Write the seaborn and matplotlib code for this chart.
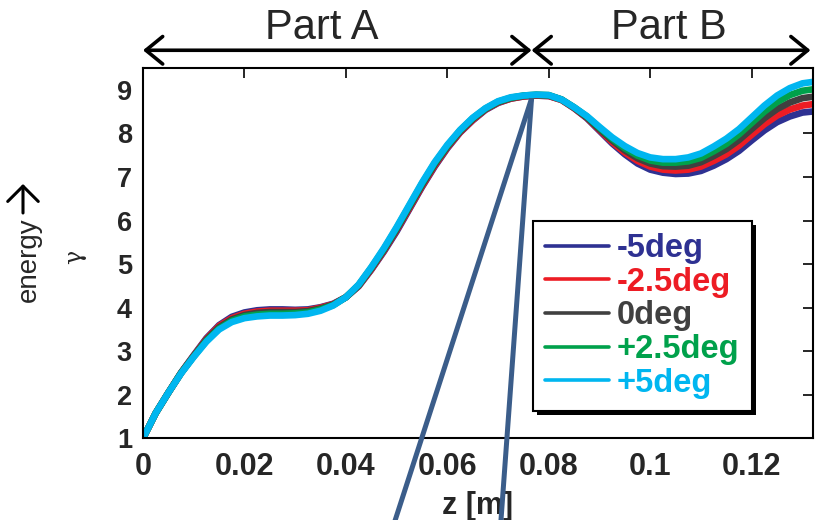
import matplotlib
matplotlib.use("Agg")
import matplotlib.pyplot as plt
import matplotlib.patheffects as pe
from matplotlib.lines import Line2D
import numpy as np
import pandas as pd
import seaborn as sns

# ---------------- data ----------------
z = [0.0, 0.0025, 0.005, 0.0075, 0.01, 0.0125, 0.015, 0.0175, 0.02, 0.0225,
     0.025, 0.0275, 0.03, 0.0325, 0.035, 0.0375, 0.04, 0.0425, 0.045, 0.0475,
     0.05, 0.0525, 0.055, 0.0575, 0.06, 0.0625, 0.065, 0.0675, 0.07, 0.0725,
     0.075, 0.0775, 0.08, 0.0825, 0.085, 0.0875, 0.09, 0.0925, 0.095, 0.0975,
     0.1, 0.1025, 0.105, 0.1075, 0.11, 0.1125, 0.115, 0.1175, 0.12, 0.1225,
     0.125, 0.1275, 0.13, 0.1325]

gamma_m5 = [1.00, 1.58, 2.05, 2.51, 2.91, 3.30, 3.60, 3.79, 3.89, 3.94,
            3.96, 3.96, 3.95, 3.96, 4.01, 4.09, 4.24, 4.49, 4.87, 5.29,
            5.75, 6.26, 6.77, 7.24, 7.66, 8.02, 8.30, 8.54, 8.70, 8.80,
            8.85, 8.87, 8.86, 8.77, 8.58, 8.35, 8.06, 7.77, 7.52, 7.31,
            7.17, 7.10, 7.07, 7.08, 7.14, 7.26, 7.41, 7.60, 7.84, 8.07,
            8.26, 8.39, 8.48, 8.51]

gamma_m25 = [1.00, 1.58, 2.05, 2.50, 2.90, 3.28, 3.58, 3.76, 3.86, 3.91,
             3.93, 3.93, 3.93, 3.94, 4.00, 4.08, 4.24, 4.50, 4.88, 5.31,
             5.78, 6.28, 6.79, 7.26, 7.68, 8.03, 8.31, 8.55, 8.71, 8.80,
             8.85, 8.87, 8.86, 8.77, 8.58, 8.36, 8.08, 7.80, 7.56, 7.37,
             7.24, 7.17, 7.15, 7.17, 7.24, 7.37, 7.52, 7.72, 7.97, 8.21,
             8.41, 8.55, 8.64, 8.68]

gamma_0 = [1.00, 1.58, 2.05, 2.50, 2.89, 3.26, 3.55, 3.73, 3.83, 3.88,
           3.90, 3.90, 3.90, 3.92, 3.98, 4.07, 4.24, 4.51, 4.90, 5.33,
           5.80, 6.31, 6.82, 7.29, 7.70, 8.05, 8.33, 8.56, 8.72, 8.81,
           8.86, 8.88, 8.87, 8.78, 8.59, 8.37, 8.10, 7.84, 7.61, 7.43,
           7.31, 7.25, 7.24, 7.26, 7.34, 7.48, 7.64, 7.85, 8.10, 8.35,
           8.56, 8.71, 8.81, 8.85]

gamma_p25 = [1.00, 1.58, 2.05, 2.50, 2.88, 3.24, 3.52, 3.70, 3.80, 3.84,
             3.86, 3.86, 3.87, 3.89, 3.96, 4.06, 4.24, 4.52, 4.92, 5.35,
             5.83, 6.34, 6.85, 7.32, 7.72, 8.07, 8.35, 8.57, 8.73, 8.82,
             8.87, 8.89, 8.88, 8.78, 8.60, 8.39, 8.13, 7.88, 7.66, 7.49,
             7.38, 7.33, 7.33, 7.36, 7.44, 7.59, 7.76, 7.98, 8.24, 8.50,
             8.72, 8.88, 8.98, 9.02]

gamma_p5 = [1.00, 1.58, 2.05, 2.49, 2.87, 3.22, 3.50, 3.67, 3.76, 3.80,
            3.82, 3.82, 3.83, 3.86, 3.93, 4.05, 4.24, 4.53, 4.93, 5.37,
            5.85, 6.36, 6.87, 7.34, 7.74, 8.08, 8.36, 8.58, 8.74, 8.83,
            8.87, 8.89, 8.88, 8.78, 8.60, 8.40, 8.15, 7.91, 7.71, 7.55,
            7.45, 7.41, 7.41, 7.45, 7.54, 7.70, 7.88, 8.10, 8.37, 8.64,
            8.87, 9.04, 9.15, 9.19]

labels = ["-5deg", "-2.5deg", "0deg", "+2.5deg", "+5deg"]
colors = ["#2e3192", "#ed1c24", "#404040", "#00a14b", "#00b6f0"]
series = [gamma_m5, gamma_m25, gamma_0, gamma_p25, gamma_p5]

x_ticks = [0, 0.02, 0.04, 0.06, 0.08, 0.1, 0.12]
x_ticklabels = ["0", "0.02", "0.04", "0.06", "0.08", "0.1", "0.12"]
y_ticks = [1, 2, 3, 4, 5, 6, 7, 8, 9]

# annotation geometry (data coords)
part_split = 0.0766
apex = (0.0766, 8.80)
ray_ends = [(0.0494, -0.99), (0.0705, -0.99)]

# ---------------- plot ----------------
sns.set_style("white")
plt.rcParams["font.family"] = ["Liberation Sans", "DejaVu Sans"]

df = pd.concat([pd.DataFrame({"z": z, "gamma": s, "phase": lab})
                for s, lab in zip(series, labels)], ignore_index=True)

fig = plt.figure(figsize=(8.15, 5.2), dpi=100)
ax = fig.add_axes([0.1755, 0.157, 0.8215, 0.712])

sns.lineplot(data=df, x="z", y="gamma", hue="phase", hue_order=labels,
             palette=colors, linewidth=4.8, legend=False, ax=ax,
             sort=False, estimator=None)

ax.set_xlim(0, 0.132)
ax.set_ylim(1, 9.5)
ax.set_xticks(x_ticks)
ax.set_xticklabels(x_ticklabels)
ax.set_yticks(y_ticks)
ax.tick_params(direction="in", length=7.5, width=1.4, top=True, right=True)
ax.tick_params(axis="x", pad=10, labelsize=22)
ax.tick_params(axis="y", pad=8, labelsize=19.5)
for lab in ax.get_xticklabels() + ax.get_yticklabels():
    lab.set_fontweight("bold")
for sp in ax.spines.values():
    sp.set_linewidth(1.5)
    sp.set_color("black")

ax.set_xlabel("z [m]", fontsize=22, fontweight="bold", labelpad=6)
ax.set_ylabel("")

# y-axis label: "energy" + upward arrow, and gamma
fig.text(0.036, 0.501, "energy", rotation=90, fontsize=20,
         ha="center", va="center")
fig.patches  # keep figure-level artists
ax.annotate("", xy=(23, 336), xytext=(23, 307), xycoords="figure pixels",
            textcoords="figure pixels",
            arrowprops=dict(arrowstyle="->,head_length=0.55,head_width=0.55",
                            lw=2.2, color="black", mutation_scale=20,
                            shrinkA=0, shrinkB=0),
            annotation_clip=False)
fig.text(0.092, 0.506, "\u03b3", rotation=90, fontsize=17,
         ha="center", va="center", family=["DejaVu Serif"])

# slanted annotation rays
for xe, ye in ray_ends:
    ax.plot([apex[0], xe], [apex[1], ye], color="#3b5d8a", lw=3.6,
            clip_on=False, solid_capstyle="butt", zorder=5)

# Part A / Part B arrows
arrow_y = 9.91
ap = dict(arrowstyle="<->,head_length=0.55,head_width=0.45", lw=2.6,
          color="black", mutation_scale=22, shrinkA=0, shrinkB=0)
ax.annotate("", xy=(0, arrow_y), xytext=(part_split, arrow_y),
            arrowprops=ap, annotation_clip=False)
ax.annotate("", xy=(part_split, arrow_y), xytext=(0.1316, arrow_y),
            arrowprops=ap, annotation_clip=False)
ax.text(0.0353, 10.42, "Part A", fontsize=30, ha="center", va="center",
        clip_on=False)
ax.text(0.1036, 10.42, "Part B", fontsize=30, ha="center", va="center",
        clip_on=False)

# legend
handles = [Line2D([0], [0], color=c, lw=2.6) for c in colors]
leg = ax.legend(handles, labels, loc="upper left",
                bbox_to_anchor=(0.582, 0.587), borderaxespad=0,
                prop={"weight": "bold", "size": 23.5}, labelcolor=colors,
                handlelength=1.96, handletextpad=0.25, labelspacing=0.08,
                borderpad=0.37, fancybox=False, framealpha=1)
frame = leg.get_frame()
frame.set_edgecolor("black")
frame.set_linewidth(1.5)
frame.set_path_effects([pe.SimplePatchShadow(offset=(3, -3),
                                             shadow_rgbFace="black", alpha=1),
                        pe.Normal()])

fig.savefig("out.png", dpi=100)
